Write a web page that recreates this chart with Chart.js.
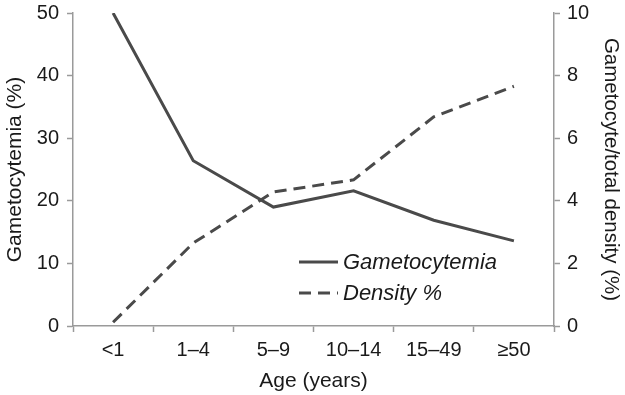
<!DOCTYPE html>
<html>
<head>
<meta charset="utf-8">
<script src="https://cdn.jsdelivr.net/npm/chart.js@4"></script>
<style>
html,body{margin:0;padding:0;background:#fff;}
#wrap{width:625px;height:395px;position:relative;}
</style>
</head>
<body>
<div id="wrap"><canvas id="c" width="625" height="395"></canvas></div>
<script>
const categories = ['<1', '1–4', '5–9', '10–14', '15–49', '≥50'];
const gametocytemia = [50, 26.4, 19.0, 21.6, 16.9, 13.6];
const densityPct = [0.12, 2.65, 4.28, 4.67, 6.68, 7.66];
const leftTicks = [0, 10, 20, 30, 40, 50];
const rightTicks = [0, 2, 4, 6, 8, 10];

const FONT = "'Liberation Sans', Arial, Helvetica, sans-serif";
const LINE = '#4a4a4a';
const AXIS = '#9a9a9a';

const legendPlugin = {
  id: 'inlineLegend',
  afterDatasetsDraw(chart) {
    const ctx = chart.ctx;
    const x0 = 299, x1 = 338, tx = 343;
    const ys = [262, 293];
    ctx.save();
    chart.data.datasets.forEach((ds, i) => {
      const y = ys[i];
      ctx.beginPath();
      ctx.strokeStyle = ds.borderColor;
      ctx.lineWidth = ds.borderWidth;
      ctx.setLineDash(ds.borderDash || []);
      ctx.moveTo(x0, y);
      ctx.lineTo(x1, y);
      ctx.stroke();
      ctx.setLineDash([]);
      ctx.fillStyle = '#1a1a1a';
      ctx.font = "italic 22px " + FONT;
      ctx.textBaseline = 'middle';
      ctx.textAlign = 'left';
      ctx.fillText(ds.label, tx, y + 1);
    });
    ctx.restore();
  }
};

new Chart(document.getElementById('c'), {
  type: 'line',
  data: {
    labels: categories,
    datasets: [
      {
        label: 'Gametocytemia',
        data: gametocytemia,
        yAxisID: 'y',
        borderColor: LINE,
        borderWidth: 3,
        pointRadius: 0,
        tension: 0,
        fill: false
      },
      {
        label: 'Density %',
        data: densityPct,
        yAxisID: 'y1',
        borderColor: LINE,
        borderWidth: 3,
        borderDash: [12, 7],
        pointRadius: 0,
        tension: 0,
        fill: false
      }
    ]
  },
  options: {
    responsive: false,
    animation: false,
    devicePixelRatio: 1,
    layout: { padding: { top: 13, left: 0, right: 0, bottom: 0 } },
    plugins: { legend: { display: false }, tooltip: { enabled: false } },
    scales: {
      x: {
        offset: true,
        grid: { display: true, drawOnChartArea: false, offset: true, color: AXIS, tickLength: 6, tickWidth: 1.5 },
        border: { color: AXIS, width: 1.5 },
        ticks: { color: '#1a1a1a', font: { family: FONT, size: 20 }, padding: 6, maxRotation: 0, autoSkip: false },
        title: { display: true, text: 'Age (years)', color: '#1a1a1a', font: { family: FONT, size: 21 }, padding: { top: 0, bottom: 1 } },
        afterFit(s) { s.height = 69; s.paddingLeft = 0; s.paddingRight = 0; }
      },
      y: {
        position: 'left',
        min: 0, max: 50,
        afterBuildTicks(s) { s.ticks = leftTicks.map(v => ({ value: v })); },
        grid: { display: true, drawOnChartArea: false, color: AXIS, tickLength: 6, tickWidth: 1.5 },
        border: { color: AXIS, width: 1.5 },
        ticks: { color: '#1a1a1a', font: { family: FONT, size: 20 }, padding: 8 },
        title: { display: true, text: 'Gametocytemia (%)', color: '#1a1a1a', font: { family: FONT, size: 21 }, padding: { top: 3, bottom: 0 } },
        afterFit(s) { s.width = 73; s.paddingTop = 0; s.paddingBottom = 0; }
      },
      y1: {
        position: 'right',
        min: 0, max: 10,
        afterBuildTicks(s) { s.ticks = rightTicks.map(v => ({ value: v })); },
        grid: { display: true, drawOnChartArea: false, color: AXIS, tickLength: 6, tickWidth: 1.5 },
        border: { color: AXIS, width: 1.5 },
        ticks: { color: '#1a1a1a', font: { family: FONT, size: 20 }, padding: 7 },
        title: { display: true, text: 'Gametocyte/total density (%)', color: '#1a1a1a', font: { family: FONT, size: 20.5 }, padding: { top: 2, bottom: 0 } },
        afterFit(s) { s.width = 71; s.paddingTop = 0; s.paddingBottom = 0; }
      }
    }
  },
  plugins: [legendPlugin]
});
</script>
</body>
</html>
